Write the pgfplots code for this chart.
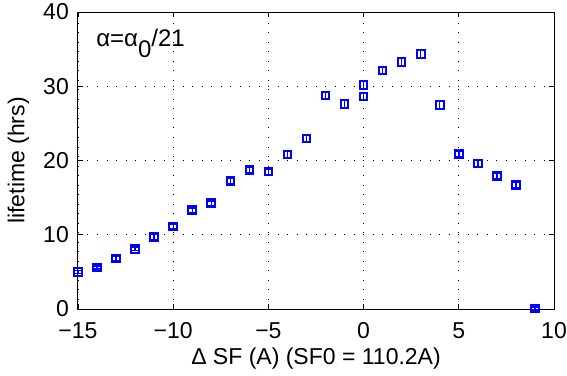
\documentclass[border=0pt]{standalone}
\usepackage{fontspec}
\setmainfont{Liberation Sans}
\usepackage{pgfplots}
\pgfplotsset{compat=1.18}
\begin{document}
\fontsize{24pt}{28pt}\selectfont
\begin{tikzpicture}
\path[use as bounding box] (-78pt,-66pt) rectangle (489pt,309pt);
\begin{axis}[
  scale only axis,
  width=476pt, height=297pt,
  xmin=-15, xmax=10, ymin=0, ymax=40,
  xtick={-15,-10,-5,0,5,10},
  ytick={0,10,20,30,40},
  xticklabels={−15,−10,−5,0,5,10},
  /pgf/number format/assume math mode=true,
  tick align=inside,
  major tick length=5pt,
  tick style={black, line width=0.8pt},
  axis line style={black, line width=1pt},
  grid=major,
  major grid style={black, line width=0.8pt, dash pattern=on 1pt off 8.5pt},
  xlabel={Δ SF (A) (SF0 = 110.2A)},
  ylabel={lifetime (hrs)},
  xticklabel style={yshift=-5pt},
  yticklabel style={xshift=-1pt},
  xlabel style={yshift=7pt},
  ylabel style={yshift=-2pt},
  tick label style={font=\fontsize{23pt}{27pt}\selectfont},
  label style={font=\fontsize{23pt}{27pt}\selectfont},
  clip=false,
]
\addplot+[
  only marks, blue, mark=square, mark size=3.8pt,
  mark options={blue, line width=2pt, solid},
  error bars/.cd, y dir=both, y explicit,
  error bar style={blue, line width=1.4pt},
  error mark options={rotate=90, mark size=3.6pt, blue, line width=1.4pt},
] table[x=x, y=y, y error=e] {
x y e
-15 4.95 0.2
-14 5.6 0.2
-13 6.8 0.25
-12 8.1 0.25
-11 9.7 0.3
-10 11.1 0.3
-9 13.3 0.3
-8 14.25 0.3
-7 17.2 0.35
-6 18.75 0.35
-5 18.5 0.35
-4 20.8 0.4
-3 22.95 0.45
-2 28.75 0.5
-1 27.6 0.5
0 30.15 0.5
0 28.6 0.5
1 32.1 0.5
2 33.25 0.5
3 34.35 0.5
4 27.5 0.5
5 20.9 0.4
6 19.6 0.4
7 17.95 0.35
8 16.7 0.3
9 0.05 0.2
};
\node[anchor=base west, inner sep=0pt] at (axis cs:-14.05,35.3)
  {α=α\raisebox{-0.45em}{0}/21};
\end{axis}
\end{tikzpicture}
\end{document}
